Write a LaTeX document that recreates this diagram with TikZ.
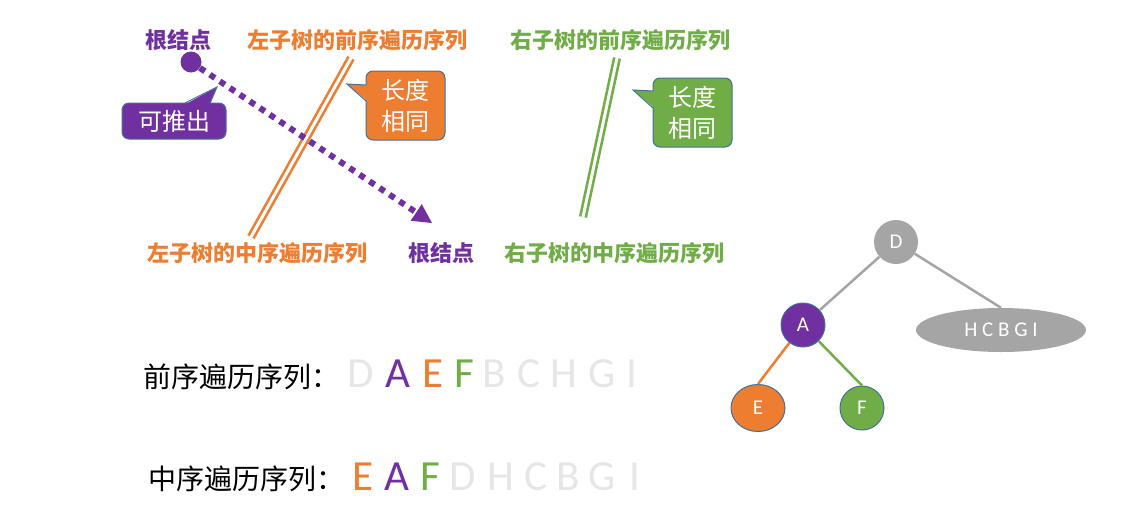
\documentclass[tikz,border=0pt]{standalone}
\usepackage{fontspec}
\newfontfamily\cjk{Noto Sans CJK SC}
\newfontfamily\lat{Carlito}
\usetikzlibrary{arrows.meta,shapes.geometric}
\definecolor{cpurple}{HTML}{7030A0}
\definecolor{corange}{HTML}{ED7D31}
\definecolor{cgreen}{HTML}{70AD47}
\definecolor{cgray}{HTML}{A5A5A5}
\definecolor{clight}{HTML}{E7E6E6}
\definecolor{cborder}{HTML}{41719C}
\begin{document}
\begin{tikzpicture}[x=1pt,y=-1pt,
  lbl/.style={font=\cjk\bfseries\fontsize{22}{26}\selectfont, inner sep=0},
  seq/.style={font=\cjk\fontsize{28}{32}\selectfont, anchor=base west, inner sep=0},
  ltr/.style={font=\lat\fontsize{43}{46}\selectfont, anchor=base, inner sep=0},
  dbl/.style={line width=2.6pt, double=white, double distance=3pt},
  bub/.style={font=\cjk\fontsize{24}{31}\selectfont, text=white, align=center, rounded corners=7pt, draw=cborder, line width=1pt, inner sep=0},
  tnode/.style={font=\lat\fontsize{21}{24}\selectfont, text=white, inner sep=0},
  tedge/.style={line width=2.5pt}
]
\useasboundingbox (0,0) rectangle (1128,520);

% top labels
\node[lbl, text=cpurple] (root1) at (178,40) {根结点};
\node[lbl, text=corange] (lpre) at (357,40) {左子树的前序遍历序列};
\node[lbl, text=cgreen] (rpre) at (620,40) {右子树的前序遍历序列};
\node[lbl, text=corange] (lin) at (257,253) {左子树的中序遍历序列};
\node[lbl, text=cpurple] (root2) at (441,253) {根结点};
\node[lbl, text=cgreen] (rin) at (614,253) {右子树的中序遍历序列};

% double lines
\coordinate (o1) at (351,58);
\coordinate (o2) at (251,237);
\coordinate (g1) at (617,58);
\coordinate (g2) at (583,217);
\draw[dbl, corange] (o1) -- (o2);
\draw[dbl, cgreen] (g1) -- (g2);

% root dot and dotted arrow
\node[circle, fill=cpurple, minimum size=21pt, inner sep=0] (dot) at (191,62) {};
\coordinate (tipA) at (432,223);
\draw[cpurple, line width=6pt, dash pattern=on 6pt off 6pt,
  -{Triangle[length=19pt,width=20pt,line width=0pt]}] (dot) -- (tipA);

% callouts
\node[bub, fill=cpurple, minimum width=104pt, minimum height=36pt] (push) at (174,121) {可推出};
\fill[cpurple] (185,104.5) -- (217,87) -- (210,104.5) -- cycle;
\draw[cborder, line width=1pt] (185,103) -- (217,87) -- (210,103);

\node[bub, fill=corange, minimum width=79pt, minimum height=69pt] (lenL) at (405.5,105.5) {长度\\相同};
\fill[corange] (367.5,85) -- (347,84) -- (367.5,101) -- cycle;
\draw[cborder, line width=1pt] (366,85) -- (347,84) -- (366,101);

\node[bub, fill=cgreen, minimum width=79pt, minimum height=69pt] (lenR) at (692.5,112.5) {长度\\相同};
\fill[cgreen] (654.5,91) -- (633,90) -- (654.5,108) -- cycle;
\draw[cborder, line width=1pt] (653,91) -- (633,90) -- (653,108);

% sequences
\node[seq] (pre) at (143,387) {前序遍历序列：};
\node[ltr, text=clight] (p1) at (361,387) {D};
\node[ltr, text=cpurple] (p2) at (398,387) {A};
\node[ltr, text=corange] (p3) at (433,387) {E};
\node[ltr, text=cgreen] (p4) at (464,387) {F};
\node[ltr, text=clight] (p5) at (494,387) {B};
\node[ltr, text=clight] (p6) at (529,387) {C};
\node[ltr, text=clight] (p7) at (564,387) {H};
\node[ltr, text=clight] (p8) at (602,387) {G};
\node[ltr, text=clight] (p9) at (632,387) {I};

\node[seq] (ino) at (148,489) {中序遍历序列：};
\node[ltr, text=corange] (i1) at (363,490) {E};
\node[ltr, text=cpurple] (i2) at (397,490) {A};
\node[ltr, text=cgreen] (i3) at (430,490) {F};
\node[ltr, text=clight] (i4) at (463,490) {D};
\node[ltr, text=clight] (i5) at (501,490) {H};
\node[ltr, text=clight] (i6) at (536,490) {C};
\node[ltr, text=clight] (i7) at (568,490) {B};
\node[ltr, text=clight] (i8) at (602,490) {G};
\node[ltr, text=clight] (i9) at (635,490) {I};

% tree
\node[tnode, circle, fill=cgray, minimum size=44pt] (D) at (896,242) {D};
\node[tnode, circle, fill=cpurple, draw=cborder, line width=1pt, minimum size=44pt] (A) at (803,325) {A};
\node[tnode, ellipse, fill=corange, draw=cborder, line width=1pt, minimum width=54pt, minimum height=47pt] (E) at (758,408) {E};
\node[tnode, circle, fill=cgreen, draw=cborder, line width=1pt, minimum size=44pt] (F) at (862,408) {F};
\node[tnode, ellipse, fill=cgray, minimum width=170pt, minimum height=44pt] (R) at (1001,330) {H C B G I};
\draw[tedge, cgray] (D) -- (A);
\draw[tedge, cgray] (D) -- (R.north);
\draw[tedge, corange] (A) -- (E.north);
\draw[tedge, cgreen] (A) -- (F.north);
\end{tikzpicture}
\end{document}
